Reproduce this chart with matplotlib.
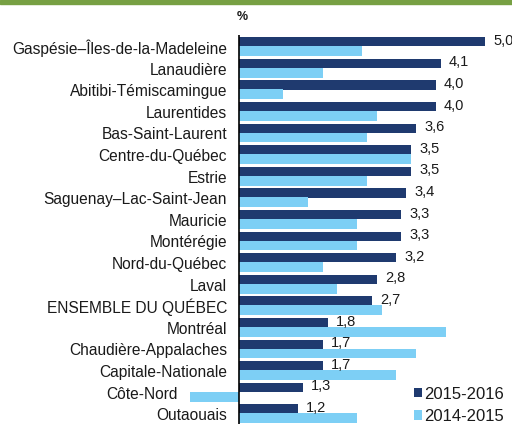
import matplotlib.pyplot as plt
from matplotlib.patches import Rectangle

regions = ['Gaspésie–Îles-de-la-Madeleine', 'Lanaudière', 'Abitibi-Témiscamingue',
           'Laurentides', 'Bas-Saint-Laurent', 'Centre-du-Québec', 'Estrie',
           'Saguenay–Lac-Saint-Jean', 'Mauricie', 'Montérégie', 'Nord-du-Québec',
           'Laval', 'ENSEMBLE DU QUÉBEC', 'Montréal', 'Chaudière-Appalaches',
           'Capitale-Nationale', 'Côte-Nord', 'Outaouais']
v2016 = [5.0, 4.1, 4.0, 4.0, 3.6, 3.5, 3.5, 3.4, 3.3, 3.3, 3.2, 2.8, 2.7, 1.8, 1.7, 1.7, 1.3, 1.2]
v2015 = [2.5, 1.7, 0.9, 2.8, 2.6, 3.5, 2.6, 1.4, 2.4, 2.4, 1.7, 2.0, 2.9, 4.2, 3.6, 3.2, -1.0, 2.4]

dark = '#1f3a6f'
light = '#7dcff5'
txt = '#1a1a1a'

plt.rcParams['font.family'] = ['Liberation Sans', 'DejaVu Sans']

fig = plt.figure(figsize=(5.12, 4.24), dpi=100)
# axes: x pixel = 239 + 49.2*v, top of axis line at y=35 px
ax = fig.add_axes([190 / 512, 0, 322 / 512, (424 - 35) / 424])
ax.set_xlim(-49 / 49.2, 273 / 49.2)
ax.set_ylim(17.48, -0.53)

y = list(range(len(regions)))
b1 = ax.barh([i - 0.215 for i in y], v2016, height=0.42, color=dark, label='2015-2016')
b2 = ax.barh([i + 0.215 for i in y], v2015, height=0.45, color=light, label='2014-2015')
ax.axvline(0, color='black', lw=1.2)

for i, name in enumerate(regions):
    left = min(0, v2016[i], v2015[i])
    ax.annotate(name, xy=(left, i), xytext=(-12, -2), textcoords='offset pixels',
                ha='right', va='center', fontsize=11.2, color=txt, annotation_clip=False)
    ax.annotate(f'{v2016[i]:.1f}'.replace('.', ','), xy=(v2016[i], i - 0.215),
                xytext=(8, 1), textcoords='offset pixels', ha='left', va='center',
                fontsize=10.5, color=txt, annotation_clip=False)

for s in ax.spines.values():
    s.set_visible(False)
ax.set_xticks([])
ax.set_yticks([])

fig.text(242 / 512, 1 - 17 / 424, '%', ha='center', va='center', fontsize=9,
         fontweight='bold', color=txt)
fig.patches.append(Rectangle((0, 1 - 4 / 424), 1, 4 / 424, transform=fig.transFigure,
                             color='#77a043', zorder=5))

ax.legend(handles=[b1, b2], loc='lower right', bbox_to_anchor=(1.0, -0.02),
          bbox_transform=fig.transFigure, frameon=False, fontsize=12,
          handlelength=0.5, handleheight=0.5, handletextpad=0.1,
          labelspacing=0.45, borderaxespad=0.1)
for t in ax.get_legend().get_texts():
    t.set_color(txt)

fig.savefig('out.png', dpi=100)
